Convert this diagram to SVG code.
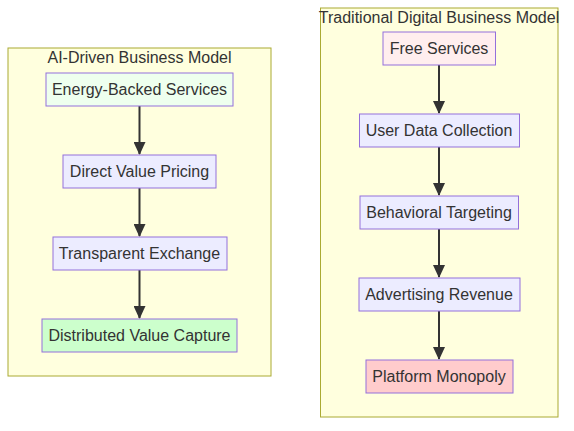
<svg xmlns="http://www.w3.org/2000/svg" width="574" height="431" viewBox="0 0 574 431">
<style>
.cluster{fill:#ffffde;stroke:#aaaa33;stroke-width:1}
.node rect{fill:#ececff;stroke:#9370db;stroke-width:1}
text{font-family:"Liberation Sans",Arial,sans-serif;font-size:16px;fill:#333;text-anchor:middle;dominant-baseline:central}
.edge{stroke:#333;stroke-width:2;fill:none;marker-end:url(#arr)}
</style>
<defs>
<marker id="arr" viewBox="0 0 13 12" refX="12" refY="6" markerWidth="13" markerHeight="12" markerUnits="userSpaceOnUse" orient="auto">
<path d="M0,0 L13,6 L0,12 z" fill="#333"/>
</marker>
</defs>
<rect width="574" height="431" fill="#fff"/>
<g id="cluster-ai">
<rect class="cluster" x="8" y="48" width="263" height="328"/>
<text x="139.5" y="57">AI-Driven Business Model</text>
</g>
<g id="cluster-trad">
<rect class="cluster" x="320.5" y="8" width="237.5" height="409"/>
<text x="439" y="17">Traditional Digital Business Model</text>
</g>
<g id="connectors">
<path class="edge" d="M139.5,106 V154"/>
<path class="edge" d="M139.5,188 V236"/>
<path class="edge" d="M139.5,270 V318"/>
<path class="edge" d="M439,65 V113"/>
<path class="edge" d="M439,147 V195"/>
<path class="edge" d="M439,229 V277"/>
<path class="edge" d="M439,311 V359"/>
</g>
<g id="energy" class="node"><rect x="46" y="73" width="187" height="33" style="fill:#eeffee"/><text x="139.5" y="89.5">Energy-Backed Services</text></g>
<g id="pricing" class="node"><rect x="63" y="155" width="153" height="33"/><text x="139.5" y="171.5">Direct Value Pricing</text></g>
<g id="exchange" class="node"><rect x="53" y="237" width="174" height="33"/><text x="139.5" y="253.5">Transparent Exchange</text></g>
<g id="capture" class="node"><rect x="42" y="319" width="195" height="33" style="fill:#ccffcc"/><text x="139.5" y="335.5">Distributed Value Capture</text></g>
<g id="free" class="node"><rect x="383" y="32" width="112.5" height="33" style="fill:#ffeeee"/><text x="439" y="48.5">Free Services</text></g>
<g id="userdata" class="node"><rect x="359.5" y="114" width="160" height="33"/><text x="439" y="130.5">User Data Collection</text></g>
<g id="targeting" class="node"><rect x="360" y="196" width="158.5" height="33"/><text x="439" y="212.5">Behavioral Targeting</text></g>
<g id="advertising" class="node"><rect x="359" y="278" width="161" height="33"/><text x="439" y="294.5">Advertising Revenue</text></g>
<g id="monopoly" class="node"><rect x="366" y="360" width="147" height="33" style="fill:#ffcccc"/><text x="439" y="376.5">Platform Monopoly</text></g>
</svg>
